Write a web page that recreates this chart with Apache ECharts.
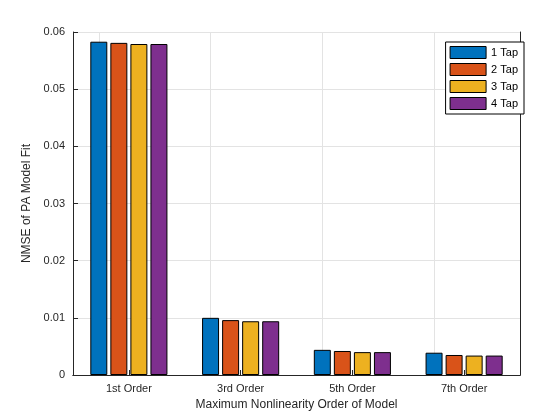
<!DOCTYPE html>
<html><head><meta charset="utf-8">
<script src="https://cdn.jsdelivr.net/npm/echarts@6/dist/echarts.min.js"></script>
<style>html,body{margin:0;background:#fff}#c{width:560px;height:420px}</style>
</head><body><div id="c"></div>
<script>
const categories = ['1st Order', '3rd Order', '5th Order', '7th Order'];
const seriesNames = ['1 Tap', '2 Tap', '3 Tap', '4 Tap'];
const tap1 = [0.0583, 0.0100, 0.0044, 0.0039];
const tap2 = [0.0581, 0.0096, 0.0042, 0.0035];
const tap3 = [0.0579, 0.0094, 0.0040, 0.0034];
const tap4 = [0.0579, 0.0094, 0.0040, 0.0034];
const colors = ['#0072BD', '#D95319', '#EDB120', '#7E2F8E'];

const chart = echarts.init(document.getElementById('c'));
const axisText = { color: '#262626', fontSize: 11, fontFamily: 'Arial, Liberation Sans' };
const axisLine = { show: true, lineStyle: { color: '#262626' } };

chart.setOption({
    animation: false,
    color: colors,
    grid: { left: 73, right: 40, top: 32, bottom: 45 },
    legend: {
        orient: 'vertical', right: 36, top: 42, icon: 'rect',
        itemWidth: 36, itemHeight: 12, itemGap: 4,
        itemStyle: { borderColor: '#000', borderWidth: 1 },
        backgroundColor: '#fff', borderColor: '#000', borderWidth: 1,
        padding: [4, 6, 4, 4],
        textStyle: { fontSize: 11, color: '#000', fontFamily: 'Arial, Liberation Sans' },
        data: seriesNames
    },
    xAxis: [{
        type: 'category', data: categories,
        name: 'Maximum Nonlinearity Order of Model', nameLocation: 'middle', nameGap: 22,
        nameTextStyle: { fontSize: 12, color: '#262626' },
        axisLine: axisLine, axisLabel: axisText,
        axisTick: { show: true, alignWithLabel: true, inside: true, lineStyle: { color: '#262626' } },
        splitLine: { show: false }
    }, {
        type: 'category', data: categories, position: 'top',
        axisLine: axisLine, axisLabel: { show: false }, axisTick: { show: false }
    }],
    yAxis: [{
        type: 'value', min: 0, max: 0.06, interval: 0.01,
        name: 'NMSE of PA Model Fit', nameLocation: 'middle', nameGap: 38,
        nameTextStyle: { fontSize: 12, color: '#262626' },
        axisLine: axisLine,
        axisLabel: Object.assign({ formatter: v => v === 0 ? '0' : v.toFixed(2) }, axisText),
        axisTick: { show: true, inside: true, lineStyle: { color: '#262626' } },
        splitLine: { show: true, lineStyle: { color: '#e3e3e3' } }
    }, {
        type: 'value', min: 0, max: 0.06, interval: 0.01, position: 'right',
        axisLine: axisLine, axisLabel: { show: false }, axisTick: { show: false }, splitLine: { show: false }
    }],
    series: [tap1, tap2, tap3, tap4].map((d, i) => ({
        name: seriesNames[i], type: 'bar', data: d,
        barGap: '18%', barCategoryGap: '31%',
        itemStyle: { borderColor: '#000', borderWidth: 1 },
        markLine: i === 0 ? {
            silent: true, symbol: 'none', z: 0, label: { show: false },
            lineStyle: { color: '#e3e3e3', type: 'solid', width: 1 },
            data: categories.map(c => ({ xAxis: c }))
        } : undefined
    }))
});
</script></body></html>
